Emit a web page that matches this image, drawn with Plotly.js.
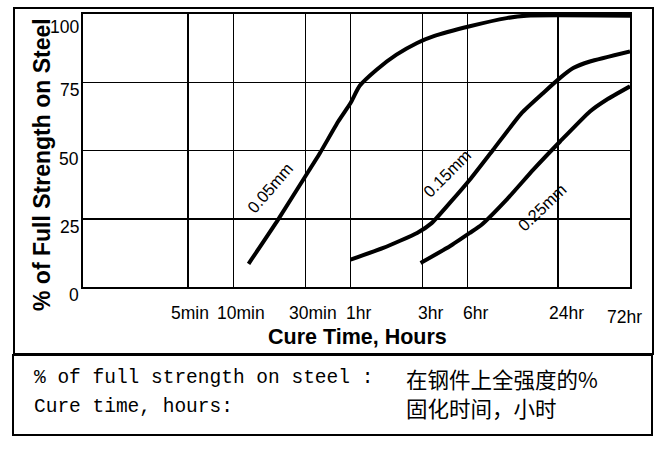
<!DOCTYPE html>
<html>
<head>
<meta charset="utf-8">
<script src="https://cdn.plot.ly/plotly-3.0.1.min.js"></script>
<style>
  body { margin: 0; background: #fff; }
  #chart { width: 669px; height: 449px; }
</style>
</head>
<body>
<div id="chart"></div>
<script>
// cure time in hours, % of full strength
var hours005 = [0.21, 0.33, 0.50, 0.625, 0.83, 1.0, 1.15, 1.49, 2.02, 2.77, 3.54, 6.2, 10.9, 14.8, 72];
var str005   = [8.5, 24.7, 40.5, 49, 60.7, 67.4, 73.7, 79.6, 85.1, 89.4, 91.8, 95.5, 98.5, 99.4, 99.4];

var hours015 = [1.0, 1.65, 2.77, 3.46, 4.57, 6.2, 8.87, 13.7, 19.1, 24.7, 30.2, 39, 72];
var str015   = [10, 14.3, 19.8, 23.4, 30.8, 39.3, 50.3, 63.7, 71.1, 76.6, 80.2, 82.6, 86.3];

var hours025 = [2.92, 4.57, 6.2, 7.43, 10.9, 16.4, 24.7, 39, 50.3, 72];
var str025   = [8.8, 14.9, 19.8, 22.8, 32, 43, 53.3, 64.3, 68.6, 73.5];

var curveNames = ['0.05mm', '0.15mm', '0.25mm'];

var xTickHours = [5/60, 10/60, 30/60, 1, 3, 6, 24, 72];
var xTickText = ['5min', '10min', '30min', '1hr', '3hr', '6hr', '24hr', '72hr'];
var yTickVals = [0, 25, 50, 75, 100];

var noteLeft = ['% of full strength on steel :', 'Cure time, hours:'];
var noteRight = ['在钢件上全强度的%', '固化时间，小时'];

// plot area in pixels
var L = 83, T = 14, W = 547, H = 273;
function px(x) { return (x - L) / W; }
function py(y) { return (T + H - y) / H; }

function curve(x, y) {
    return {
        x: x, y: y,
        mode: 'lines',
        type: 'scatter',
        line: {color: '#000', width: 4, shape: 'spline', smoothing: 0.5},
        hoverinfo: 'skip'
    };
}

var data = [curve(hours005, str005), curve(hours015, str015), curve(hours025, str025)];

var ann = [];
var tickFont = {family: 'Liberation Sans, Arial, sans-serif', size: 17.5, color: '#000'};

for (var i = 0; i < xTickHours.length; i++) {
    var last = i == xTickHours.length - 1;
    ann.push({
        x: Math.log10(xTickHours[i]), xref: 'x', y: 0, yref: 'paper',
        text: xTickText[i], showarrow: false, font: tickFont,
        xanchor: last ? 'right' : 'center', yanchor: 'middle',
        xshift: last ? 14 : (i == 0 ? 2 : 8), yshift: last ? -30 : -26
    });
}
for (var j = 0; j < yTickVals.length; j++) {
    ann.push({
        x: 0, xref: 'paper', y: yTickVals[j], yref: 'y',
        text: String(yTickVals[j]), showarrow: false, font: tickFont,
        xanchor: 'right', yanchor: 'middle',
        xshift: -2, yshift: yTickVals[j] == 100 ? -13 : -8
    });
}

// curve labels
var labelPos = [[0.29, 36.4, -49], [4.39, 41.8, -45], [18.8, 29.3, -44]];
for (var k = 0; k < curveNames.length; k++) {
    ann.push({
        x: Math.log10(labelPos[k][0]), y: labelPos[k][1], xref: 'x', yref: 'y',
        text: curveNames[k], showarrow: false, textangle: labelPos[k][2],
        xanchor: 'center', yanchor: 'middle',
        font: {family: 'Liberation Sans, Arial, sans-serif', size: 16.5, color: '#000'}
    });
}

// axis titles
ann.push({
    x: px(42), y: py(165), xref: 'paper', yref: 'paper',
    xanchor: 'center', yanchor: 'middle',
    text: '<b>% of Full Strength on Steel</b>', showarrow: false, textangle: -90,
    font: {family: 'Liberation Sans, Arial, sans-serif', size: 23, color: '#000'}
});
ann.push({
    x: px(357), y: py(337), xref: 'paper', yref: 'paper',
    xanchor: 'center', yanchor: 'middle',
    text: '<b>Cure Time, Hours</b>', showarrow: false,
    font: {family: 'Liberation Sans, Arial, sans-serif', size: 21.5, color: '#000'}
});

// translation notes
for (var n = 0; n < noteLeft.length; n++) {
    ann.push({
        x: px(32), y: py(378 + n * 29), xref: 'paper', yref: 'paper',
        text: noteLeft[n], showarrow: false, xanchor: 'left', yanchor: 'middle',
        font: {family: 'Liberation Mono, monospace', size: 19.5, color: '#000'}
    });
    ann.push({
        x: px(404), y: py(378 + n * 29), xref: 'paper', yref: 'paper',
        text: noteRight[n], showarrow: false, xanchor: 'left', yanchor: 'middle',
        font: {family: 'Noto Sans CJK SC, sans-serif', size: 21.5, color: '#000'}
    });
}

var shapes = [
    {type: 'rect', xref: 'paper', yref: 'paper', x0: px(14), x1: px(653), y0: py(8), y1: py(354),
     line: {color: '#000', width: 2}},
    {type: 'rect', xref: 'paper', yref: 'paper', x0: px(13), x1: px(652), y0: py(355), y1: py(435),
     line: {color: '#000', width: 2}}
];

var gridStyle = {
    showgrid: true, gridcolor: '#000', gridwidth: 1.5,
    showline: true, mirror: true, linecolor: '#000', linewidth: 2,
    zeroline: false, ticks: '', showticklabels: false, fixedrange: true
};

var layout = {
    width: 669, height: 449,
    margin: {l: L, r: 669 - L - W, t: T, b: 449 - T - H},
    paper_bgcolor: '#fff', plot_bgcolor: '#fff',
    showlegend: false,
    xaxis: Object.assign({type: 'log', range: [Math.log10(1/60), Math.log10(72)], tickvals: xTickHours}, gridStyle),
    yaxis: Object.assign({range: [0, 100], tickvals: yTickVals}, gridStyle),
    annotations: ann,
    shapes: shapes
};

Plotly.newPlot('chart', data, layout, {staticPlot: true});
</script>
</body>
</html>
